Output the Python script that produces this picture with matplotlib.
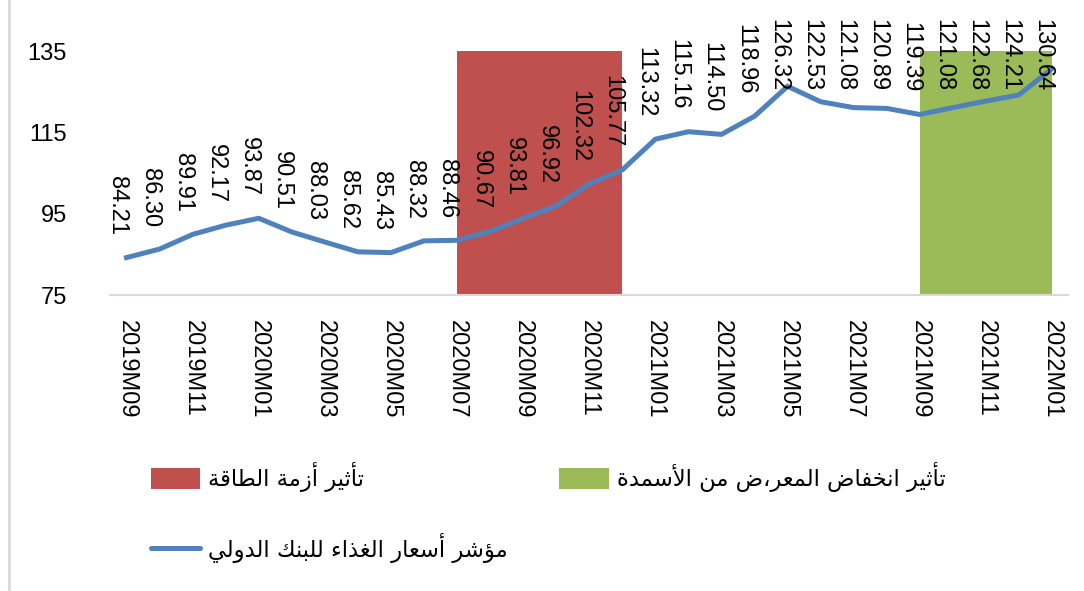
import numpy as np
import matplotlib
matplotlib.use("Agg")
from matplotlib import pyplot as plt
from matplotlib.patches import Patch
from matplotlib.lines import Line2D


months = [
    "2019M09", "2019M10", "2019M11", "2019M12", "2020M01", "2020M02", "2020M03",
    "2020M04", "2020M05", "2020M06", "2020M07", "2020M08", "2020M09", "2020M10",
    "2020M11", "2020M12", "2021M01", "2021M02", "2021M03", "2021M04", "2021M05",
    "2021M06", "2021M07", "2021M08", "2021M09", "2021M10", "2021M11", "2021M12",
    "2022M01",
]
food_index = [
    84.21, 86.30, 89.91, 92.17, 93.87, 90.51, 88.03, 85.62, 85.43, 88.32,
    88.46, 90.67, 93.81, 96.92, 102.32, 105.77, 113.32, 115.16, 114.50, 118.96,
    126.32, 122.53, 121.08, 120.89, 119.39, 121.08, 122.68, 124.21, 130.64,
]
# shaded periods (area series, 135 where active)
energy_crisis = [0] * 10 + [135] * 6 + [0] * 13
fertilizer = [0] * 24 + [135] * 5

label_line = "مؤشر أسعار الغذاء للبنك الدولي"
label_energy = "تأثير أزمة الطاقة"
label_fert = "تأثير انخفاض المعر،ض من الأسمدة"

BLUE = "#4F81BD"
RED = "#C0504D"
GREEN = "#9BBB59"
LABEL_CAP = 119.6  # labels of higher points are pushed down to stay in the chart

# Arabic presentation forms: letter -> (isolated code, number of forms)
LETTERS = {
    "ء": (0xFE80, 1), "آ": (0xFE81, 2), "أ": (0xFE83, 2), "ؤ": (0xFE85, 2),
    "إ": (0xFE87, 2), "ئ": (0xFE89, 4), "ا": (0xFE8D, 2), "ب": (0xFE8F, 4),
    "ة": (0xFE93, 2), "ت": (0xFE95, 4), "ث": (0xFE99, 4), "ج": (0xFE9D, 4),
    "ح": (0xFEA1, 4), "خ": (0xFEA5, 4), "د": (0xFEA9, 2), "ذ": (0xFEAB, 2),
    "ر": (0xFEAD, 2), "ز": (0xFEAF, 2), "س": (0xFEB1, 4), "ش": (0xFEB5, 4),
    "ص": (0xFEB9, 4), "ض": (0xFEBD, 4), "ط": (0xFEC1, 4), "ظ": (0xFEC5, 4),
    "ع": (0xFEC9, 4), "غ": (0xFECD, 4), "ف": (0xFED1, 4), "ق": (0xFED5, 4),
    "ك": (0xFED9, 4), "ل": (0xFEDD, 4), "م": (0xFEE1, 4), "ن": (0xFEE5, 4),
    "ه": (0xFEE9, 4), "و": (0xFEED, 2), "ى": (0xFEEF, 2), "ي": (0xFEF1, 4),
}
LAM_ALEF = {"آ": 0xFEF5, "أ": 0xFEF7, "إ": 0xFEF9, "ا": 0xFEFB}


def shape(text):
    out = []
    i = 0
    while i < len(text):
        c = text[i]
        if c not in LETTERS:
            out.append(c)
            i += 1
            continue
        prev = text[i - 1] if i > 0 else ""
        joins_prev = prev in LETTERS and LETTERS[prev][1] == 4
        nxt = text[i + 1] if i + 1 < len(text) else ""
        if c == "ل" and nxt in LAM_ALEF:
            out.append(chr(LAM_ALEF[nxt] + (1 if joins_prev else 0)))
            i += 2
            continue
        start, n = LETTERS[c]
        joins_next = n == 4 and nxt in LETTERS and LETTERS[nxt][1] > 1
        if n == 1:
            form = 0
        elif joins_prev and joins_next:
            form = 3
        elif joins_prev:
            form = 1
        elif joins_next:
            form = 2
        else:
            form = 0
        out.append(chr(start + form))
        i += 1
    return "".join(reversed(out))


plt.rcParams["font.family"] = ["Liberation Sans", "DejaVu Sans"]

fig = plt.figure(figsize=(10.84, 5.91), dpi=100)
ax = fig.add_axes([0.1015, 0.5008, 0.8842, 0.4129])

x = np.arange(len(months))
e = np.array(energy_crisis)
f = np.array(fertilizer)
ax.fill_between(x, 0, e, where=e > 0, color=RED, linewidth=0)
ax.fill_between(x, 0, f, where=f > 0, color=GREEN, linewidth=0)
ax.plot(x, food_index, color=BLUE, linewidth=3.6, solid_joinstyle="miter")

for xi, v in zip(x, food_index):
    ax.annotate(f"{v:.2f}", (xi, min(v, LABEL_CAP)), xytext=(-7, 16),
                textcoords="offset points", rotation=-90,
                ha="center", va="bottom", fontsize=17)

ax.set_xlim(-0.5, len(months) - 0.5)
ax.set_ylim(75, 135)
ax.set_yticks([75, 95, 115, 135])
ax.set_xticks(x[::2])
ax.set_xticklabels(months[::2], rotation=-90, fontsize=17)
ax.tick_params(axis="x", length=0, pad=18)
ax.tick_params(axis="y", length=0, pad=31, labelsize=17)
for s in ["top", "right", "left"]:
    ax.spines[s].set_visible(False)
ax.spines["bottom"].set_color("#D9D9D9")
ax.spines["bottom"].set_linewidth(1.5)

# left border of the chart area
fig.add_artist(Line2D([0.0085, 0.0085], [0, 1], color="#D9D9D9", linewidth=2))

handles = [
    Patch(facecolor=RED),
    Line2D([0], [0], color=BLUE, linewidth=3.6, solid_capstyle="round"),
    Patch(facecolor=GREEN),
]
labels = [shape(label_energy), shape(label_line), shape(label_fert)]
leg = fig.legend(handles, labels, ncol=2, loc="upper left",
                 bbox_to_anchor=(0.1285, 0.237), frameon=False,
                 prop={"family": "DejaVu Sans", "size": 16.3},
                 handlelength=2.2, handleheight=1.1, handletextpad=0.35,
                 labelspacing=1.8, columnspacing=2.25, borderpad=0)

fig.savefig("out.png", dpi=100)
